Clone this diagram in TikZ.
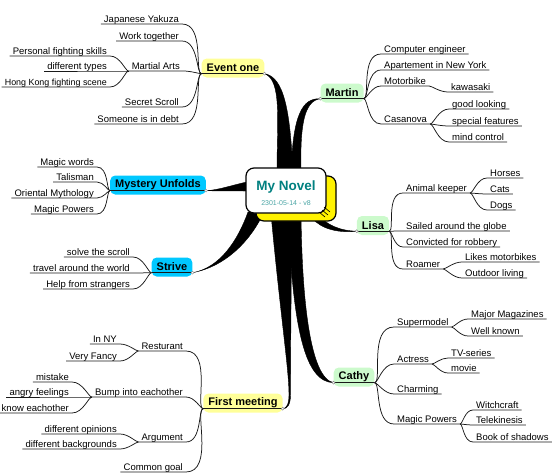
\documentclass[tikz,border=0pt]{standalone}
\usepackage{fontspec}
\setmainfont{Liberation Sans}
\usepackage{tikz}
\usetikzlibrary{backgrounds}

\definecolor{topicyellow}{RGB}{255,255,153}
\definecolor{topicgreen}{RGB}{204,250,204}
\definecolor{topicblue}{RGB}{0,200,255}
\definecolor{noveltext}{RGB}{0,128,128}

\begin{document}
\begin{tikzpicture}[x=1pt, y=-1pt,
    topic/.style={rounded corners=5pt, inner xsep=5pt, inner ysep=0pt, minimum height=19pt, font=\fontsize{11}{12}\selectfont\bfseries},
    leafL/.style={anchor=south east, inner xsep=3pt, inner ysep=0.3pt, text height=7pt, text depth=1.3pt, font=\fontsize{9.5}{11}\selectfont},
    leafR/.style={leafL, anchor=south west},
    wire/.style={line width=0.75pt, black!90},
    twig/.style={out=0, in=180, out looseness=1.1, in looseness=0.35},
    sprig/.style={out=0, in=180, out looseness=0.35, in looseness=1.1},
    limb/.style={fill=black, draw=black, line width=0.4pt},
    socket/.style={circle, fill=white, draw=gray, inner sep=0pt, minimum size=3pt}]
        \useasboundingbox (0,0) rectangle (560,474);

        % Centre
        \node[draw, line width=1.2pt, fill=yellow, rounded corners=8pt, minimum width=80pt, minimum height=45pt] (hubside) at (296,198.5) {};
        \node[draw, line width=1.2pt, fill=white, rounded corners=8pt, minimum width=80pt, minimum height=45pt] (hub) at (286,190.5) {};
        \node[font=\fontsize{13.5}{15}\selectfont\bfseries, text=noveltext] (title) at (286,187) {My Novel};
        \node[font=\fontsize{7}{8}\selectfont, text=noveltext!70] (date) at (286,203) {2301-05-14 - v8};
        \draw[line width=0.6pt] (324,207) -- (330,212) (322,210) -- (328,215) (319,212) -- (325,217);

        % Main topics
        \node[topic, fill=topicyellow] (event) at (233,68) {Event one};
        \node[topic, fill=topicgreen] (martin) at (342,93) {Martin};
        \node[topic, fill=topicblue] (mystery) at (158,185) {Mystery Unfolds};
        \node[topic, fill=topicblue] (strive) at (172,267) {Strive};
        \node[topic, fill=topicgreen] (lisa) at (373,225.5) {Lisa};
        \node[topic, fill=topicyellow] (meeting) at (243,403) {First meeting};
        \node[topic, fill=topicgreen] (cathy) at (354,377) {Cathy};

        \coordinate (eventL) at ([yshift=4pt]event.south west);
        \coordinate (eventR) at ([yshift=4pt]event.south east);
        \coordinate (martinL) at ([yshift=4pt]martin.south west);
        \coordinate (martinR) at ([yshift=4pt]martin.south east);
        \coordinate (mysteryL) at ([yshift=4pt]mystery.south west);
        \coordinate (mysteryR) at ([yshift=4pt]mystery.south east);
        \coordinate (striveL) at ([yshift=4pt]strive.south west);
        \coordinate (striveR) at ([yshift=4pt]strive.south east);
        \coordinate (lisaL) at ([yshift=4pt]lisa.south west);
        \coordinate (lisaR) at ([yshift=4pt]lisa.south east);
        \coordinate (meetingL) at ([yshift=4pt]meeting.south west);
        \coordinate (meetingR) at ([yshift=4pt]meeting.south east);
        \coordinate (cathyL) at ([yshift=4pt]cathy.south west);
        \coordinate (cathyR) at ([yshift=4pt]cathy.south east);

        % Thick branches
        \begin{scope}[on background layer]
            \fill[limb] (277,172) .. controls (277,120) and (282,80) .. (eventR) .. controls (284,77) and (290,110) .. (293,172) -- cycle;
            \fill[limb] (291,172) .. controls (293,115) and (302,98) .. (martinL) .. controls (304,101) and (300,125) .. (301,172) -- cycle;
            \fill[limb] (252,181) .. controls (235,184) and (220,190) .. (mysteryR) .. controls (222,191) and (236,191) .. (252,191) -- cycle;
            \fill[limb] (248,212) .. controls (238,240) and (220,268) .. (striveR) .. controls (228,266) and (252,238) .. (264,212) -- cycle;
            \fill[limb] (316,212) .. controls (326,226) and (342,231) .. (lisaL) .. controls (340,233) and (322,230) .. (312,218) -- cycle;
            \fill[limb] (288,214) .. controls (293,330) and (305,382) .. (cathyL) .. controls (310,378) and (302,300) .. (301,214) -- cycle;
            \fill[limb] (271,214) .. controls (281,320) and (289,370) .. (289,395) .. controls (289,405) and (286,408.5) .. (meetingR)
                .. controls (287,409) and (290.5,405) .. (290.5,395) .. controls (290.5,360) and (291,300) .. (292,214) -- cycle;
        \end{scope}

        % Topic underlines
        \draw[wire] (eventL) -- (eventR);
        \draw[wire] (martinL) -- (martinR);
        \draw[wire] (mysteryL) -- (mysteryR);
        \draw[wire] (striveL) -- (striveR);
        \draw[wire] (lisaL) -- (lisaR);
        \draw[wire] (meetingL) -- (meetingR);
        \draw[wire] (cathyL) -- (cathyR);

        % Event one
        \node[leafL] (yakuza) at (182,24) {Japanese Yakuza};
        \node[leafL] (together) at (182,41) {Work together};
        \node[leafL] (arts) at (183,71) {Martial Arts};
        \node[leafL] (skills) at (110,56) {Personal fighting skills};
        \node[leafL] (types) at (110,71) {different types};
        \node[leafL, font=\fontsize{8.9}{11}\selectfont] (hongkong) at (110,87) {Hong Kong fighting scene};
        \node[leafL] (scroll) at (182,107) {Secret Scroll};
        \node[leafL] (debt) at (182,124) {Someone is in debt};
        \draw[wire] (yakuza.south west) -- (yakuza.south east) to[twig] (eventL);
        \draw[wire] (together.south west) -- (together.south east) to[twig] (eventL);
        \draw[wire] (arts.south west) -- (arts.south east) to[twig] (eventL);
        \draw[wire] (scroll.south west) -- (scroll.south east) to[twig] (eventL);
        \draw[wire] (debt.south west) -- (debt.south east) to[twig] (eventL);
        \draw[wire] (skills.south west) -- (skills.south east) to[twig] (arts.south west);
        \draw[wire] (types.south west) -- (types.south east) to[twig] (arts.south west);
        \draw[wire] (hongkong.south west) -- (hongkong.south east) to[twig] (arts.south west);

        % Martin
        \node[leafR] (engineer) at (381,54) {Computer engineer};
        \node[leafR] (flat) at (381,70) {Apartement in New York};
        \node[leafR] (motorbike) at (381,86) {Motorbike};
        \node[leafR] (kawasaki) at (448,92) {kawasaki};
        \node[leafR] (casanova) at (381,124) {Casanova};
        \node[leafR] (looking) at (449,109) {good looking};
        \node[leafR] (features) at (449,126) {special features};
        \node[leafR] (control) at (449,142) {mind control};
        \draw[wire] (martinR) to[sprig] (engineer.south west) -- (engineer.south east);
        \draw[wire] (martinR) to[sprig] (flat.south west) -- (flat.south east);
        \draw[wire] (martinR) to[sprig] (motorbike.south west) -- (motorbike.south east);
        \draw[wire] (martinR) to[sprig] (casanova.south west) -- (casanova.south east);
        \draw[wire] (motorbike.south east) to[sprig] (kawasaki.south west) -- (kawasaki.south east);
        \draw[wire] (casanova.south east) to[sprig] (looking.south west) -- (looking.south east);
        \draw[wire] (casanova.south east) to[sprig] (features.south west) -- (features.south east);
        \draw[wire] (casanova.south east) to[sprig] (control.south west) -- (control.south east);

        % Mystery Unfolds
        \node[leafL] (words) at (97,167) {Magic words};
        \node[leafL] (talisman) at (97,182) {Talisman};
        \node[leafL] (mythology) at (97,198) {Oriental Mythology};
        \node[leafL] (powersM) at (97,214) {Magic Powers};
        \draw[wire] (words.south west) -- (words.south east) to[twig] (mysteryL);
        \draw[wire] (talisman.south west) -- (talisman.south east) to[twig] (mysteryL);
        \draw[wire] (mythology.south west) -- (mythology.south east) to[twig] (mysteryL);
        \draw[wire] (powersM.south west) -- (powersM.south east) to[twig] (mysteryL);

        % Strive
        \node[leafL] (solve) at (133,257) {solve the scroll};
        \node[leafL] (travel) at (133,273) {travel around the world};
        \node[leafL] (help) at (133,289) {Help from strangers};
        \draw[wire] (solve.south west) -- (solve.south east) to[twig] (striveL);
        \draw[wire] (travel.south west) -- (travel.south east) to[twig] (striveL);
        \draw[wire] (help.south west) -- (help.south east) to[twig] (striveL);

        % Lisa
        \node[leafR] (keeper) at (403,193) {Animal keeper};
        \node[leafR] (horses) at (487,178) {Horses};
        \node[leafR] (cats) at (487,194) {Cats};
        \node[leafR] (dogs) at (487,210) {Dogs};
        \node[leafR] (sailed) at (403,231) {Sailed around the globe};
        \node[leafR] (robbery) at (403,247) {Convicted for robbery};
        \node[leafR] (roamer) at (403,269) {Roamer};
        \node[leafR] (bikes) at (462,262) {Likes motorbikes};
        \node[leafR] (outdoor) at (462,278) {Outdoor living};
        \draw[wire] (lisaR) to[sprig] (keeper.south west) -- (keeper.south east);
        \draw[wire] (lisaR) to[sprig] (sailed.south west) -- (sailed.south east);
        \draw[wire] (lisaR) to[sprig] (robbery.south west) -- (robbery.south east);
        \draw[wire] (lisaR) to[sprig] (roamer.south west) -- (roamer.south east);
        \draw[wire] (keeper.south east) to[sprig] (horses.south west) -- (horses.south east);
        \draw[wire] (keeper.south east) to[sprig] (cats.south west) -- (cats.south east);
        \draw[wire] (keeper.south east) to[sprig] (dogs.south west) -- (dogs.south east);
        \draw[wire] (roamer.south east) to[sprig] (bikes.south west) -- (bikes.south east);
        \draw[wire] (roamer.south east) to[sprig] (outdoor.south west) -- (outdoor.south east);

        % First meeting
        \node[leafL] (resturant) at (186,351) {Resturant};
        \node[leafL] (inny) at (120,344) {In NY};
        \node[leafL] (fancy) at (120,361) {Very Fancy};
        \node[leafL] (bump) at (186,397) {Bump into eachother};
        \node[leafL] (mistake) at (72,382) {mistake};
        \node[leafL] (angry) at (72,397) {angry feelings};
        \node[leafL] (know) at (72,413) {know eachother};
        \node[leafL] (argument) at (186,442) {Argument};
        \node[leafL] (opinions) at (120,434) {different opinions};
        \node[leafL] (backgrounds) at (120,449) {different backgrounds};
        \node[leafL] (goal) at (186,472) {Common goal};
        \draw[wire] (resturant.south west) -- (resturant.south east) to[twig] (meetingL);
        \draw[wire] (bump.south west) -- (bump.south east) to[twig] (meetingL);
        \draw[wire] (argument.south west) -- (argument.south east) to[twig] (meetingL);
        \draw[wire] (goal.south west) -- (goal.south east) to[twig] (meetingL);
        \draw[wire] (inny.south west) -- (inny.south east) to[twig] (resturant.south west);
        \draw[wire] (fancy.south west) -- (fancy.south east) to[twig] (resturant.south west);
        \draw[wire] (mistake.south west) -- (mistake.south east) to[twig] (bump.south west);
        \draw[wire] (angry.south west) -- (angry.south east) to[twig] (bump.south west);
        \draw[wire] (know.south west) -- (know.south east) to[twig] (bump.south west);
        \draw[wire] (opinions.south west) -- (opinions.south east) to[twig] (argument.south west);
        \draw[wire] (backgrounds.south west) -- (backgrounds.south east) to[twig] (argument.south west);

        % Cathy
        \node[leafR] (supermodel) at (394,327) {Supermodel};
        \node[leafR] (magazines) at (468,319) {Major Magazines};
        \node[leafR] (known) at (468,336) {Well known};
        \node[leafR] (actress) at (394,364) {Actress};
        \node[leafR] (series) at (448,358) {TV-series};
        \node[leafR] (movie) at (448,373) {movie};
        \node[leafR] (charming) at (394,394) {Charming};
        \node[leafR] (powersC) at (394,424) {Magic Powers};
        \node[leafR] (witchcraft) at (473,410) {Witchcraft};
        \node[leafR] (telekinesis) at (473,425) {Telekinesis};
        \node[leafR] (shadows) at (473,442) {Book of shadows};
        \draw[wire] (cathyR) to[sprig] (supermodel.south west) -- (supermodel.south east);
        \draw[wire] (cathyR) to[sprig] (actress.south west) -- (actress.south east);
        \draw[wire] (cathyR) to[sprig] (charming.south west) -- (charming.south east);
        \draw[wire] (cathyR) to[sprig] (powersC.south west) -- (powersC.south east);
        \draw[wire] (supermodel.south east) to[sprig] (magazines.south west) -- (magazines.south east);
        \draw[wire] (supermodel.south east) to[sprig] (known.south west) -- (known.south east);
        \draw[wire] (actress.south east) to[sprig] (series.south west) -- (series.south east);
        \draw[wire] (actress.south east) to[sprig] (movie.south west) -- (movie.south east);
        \draw[wire] (powersC.south east) to[sprig] (witchcraft.south west) -- (witchcraft.south east);
        \draw[wire] (powersC.south east) to[sprig] (telekinesis.south west) -- (telekinesis.south east);
        \draw[wire] (powersC.south east) to[sprig] (shadows.south west) -- (shadows.south east);

        % Sockets
        \node[socket] at (eventR) {};
        \node[socket] at (martinL) {};
        \node[socket] at (mysteryR) {};
        \node[socket] at (striveR) {};
        \node[socket] at (lisaL) {};
        \node[socket] at (meetingR) {};
        \node[socket] at (cathyL) {};
    \end{tikzpicture}
\end{document}
